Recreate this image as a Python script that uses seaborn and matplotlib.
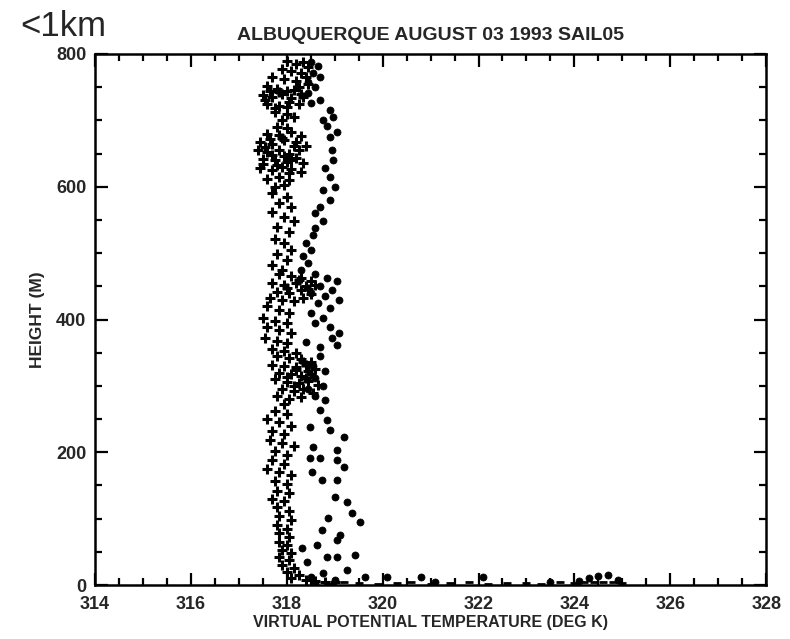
import matplotlib
matplotlib.use("Agg")
import matplotlib.pyplot as plt
import seaborn as sns
import pandas as pd
from matplotlib.ticker import MultipleLocator

# ---- data ----
plus_T = [318.0,318.2,318.35,317.9,318.1,318.3,318.45,317.7,317.95,318.2,318.4,317.6,317.8,318.0,318.25,318.45,
          317.5,317.7,317.9,318.1,318.3,317.6,317.85,318.05,318.25,317.75,318.0,317.9,318.15,
          317.65,317.85,318.15,318.35,317.55,317.75,318.0,
          317.8,318.0,317.6,317.85,318.1,318.3,317.45,317.7,317.95,318.2,318.4,317.4,317.6,317.85,318.05,318.25,
          317.5,317.75,318.0,318.2,318.35,317.45,317.7,317.9,318.1,318.3,317.6,317.85,318.05,317.75,317.95,
          317.55,317.7,317.95,318.15,317.5,317.8,318.05,317.65,317.9,318.1,
          317.7,318.0,317.85,318.1,317.7,317.95,318.15,317.8,318.05,317.75,317.95,318.1,317.8,318.0,317.7,317.9,
          317.85,318.1,318.3,318.5,317.7,317.95,318.2,318.4,318.6,317.8,318.05,318.3,318.5,317.65,317.9,318.15,318.35,
          318.0,318.25,318.45,
          317.6,317.85,318.05,317.5,317.75,318.0,317.6,317.85,318.1,317.55,317.8,318.0,317.7,317.95,318.2,
          317.8,318.05,318.3,318.5,317.7,317.95,318.2,318.4,318.6,317.85,318.1,318.3,318.5,317.75,318.0,318.25,318.45,318.65,
          317.9,318.15,318.35,318.55,317.8,318.05,318.3,317.95,
          318.2,318.4,318.15,318.35,318.0,318.45,
          317.75,318.0,317.6,317.85,318.1,317.7,317.95,317.65,317.9,318.15,317.75,318.0,317.7,317.95,317.6,317.85,318.1,
          317.75,318.0,317.8,318.05,317.7,317.95,317.8,318.05,317.85,318.1,317.8,318.0,317.85,318.05,317.85,318.0,
          317.9,318.1,317.85,318.05,317.9,318.15,318.0,318.25,318.1,318.4,318.6,318.8,319.0]
plus_H = [790,785,788,778,775,772,780,765,762,760,765,752,748,745,750,755,
          738,735,740,733,740,725,722,728,725,712,710,700,705,
          745,742,746,735,730,718,720,
          690,688,680,678,682,676,668,665,670,668,662,655,652,655,650,656,
          642,640,638,643,636,628,625,630,626,622,612,615,610,600,603,
          660,648,646,662,634,633,620,672,674,640,
          590,585,575,570,562,555,548,540,532,522,515,505,498,490,482,475,
          468,465,462,458,455,452,455,450,452,442,440,444,438,432,430,428,432,
          447,460,446,
          420,415,410,402,398,395,388,384,380,372,368,364,356,352,350,
          345,342,340,336,332,330,328,332,325,320,318,315,318,310,306,304,308,302,
          296,292,295,290,285,280,283,272,
          324,312,300,336,313,322,
          262,258,250,245,240,232,228,218,214,210,202,196,188,182,175,170,165,
          157,152,142,138,130,126,117,112,104,98,90,85,78,72,65,60,
          52,48,42,37,30,26,20,15,10,8,6,5,4]

dot_T = [318.5,318.65,318.55,318.7,318.45,318.6,318.45,318.69,318.5,318.9,318.97,318.76,318.85,319.05,318.9,
         318.95,318.97,318.8,318.9,319.0,318.75,318.9,318.7,318.6,318.75,318.6,318.55,318.4,318.5,318.35,318.45,318.3,
         318.6,318.85,319.05,318.7,318.95,318.5,318.8,319.1,318.65,318.9,
         318.5,318.75,318.6,318.9,319.1,318.95,319.05,318.7,318.4,
         318.7,318.55,318.8,318.6,318.75,318.45,318.6,
         318.8,318.7,318.84,318.49,318.9,319.2,318.55,319.05,318.49,318.69,319.05,319.2,318.53,318.74,319.05,
         319.0,319.26,319.36,319.53,318.86,318.74,319.11,318.63,319.05,318.32,318.84,319.05,319.42,318.42,
         318.76,319.26,319.63,318.5,319.0,
         320.1,320.8,321.1,322.1,323.5,324.3,324.5,324.7,324.9,324.1]
dot_H = [788,782,772,765,758,750,741,731,726,716,705,700,692,683,675,
         655,640,628,615,600,595,580,570,560,548,538,527,515,505,495,485,475,
         468,462,458,450,445,440,435,430,425,418,
         410,402,395,388,380,372,362,358,366,
         345,330,322,312,300,295,285,
         279,264,249,238,234,223,208,203,191,191,188,178,170,158,158,
         133,125,108,95,101,83,75,60,68,56,42,42,45,35,
         18,23,12,12,8,
         12,12,5,12,5,10,14,15,8,6]

base_T = [318.6,318.9,319.2,319.5,319.9,320.3,320.6,321.0,321.4,321.8,322.2,322.6,
          323.0,323.3,323.7,324.0,324.2,324.4,324.6,324.8,325.0]
base_H = [3,2,4,3,2,3,4,2,3,4,2,3,3,2,4,3,5,4,5,4,3]

title = "ALBUQUERQUE AUGUST 03 1993 SAIL05"
xlabel = "VIRTUAL POTENTIAL TEMPERATURE (DEG K)"
ylabel = "HEIGHT (M)"
xticks = [314, 316, 318, 320, 322, 324, 326, 328]
yticks = [0, 200, 400, 600, 800]

plus_df = pd.DataFrame({"T": plus_T, "H": plus_H})
dot_df = pd.DataFrame({"T": dot_T, "H": dot_H})
base_df = pd.DataFrame({"T": base_T, "H": base_H})

sns.set_style("ticks")
plt.rcParams["font.family"] = ["Liberation Sans", "DejaVu Sans"]

fig = plt.figure(figsize=(7.9, 6.39), dpi=100)
ax = fig.add_axes([0.120, 0.0845, 0.850, 0.831])

sns.scatterplot(data=plus_df, x="T", y="H", marker="+", s=60, color="black",
                linewidth=2.2, ax=ax, legend=False)
sns.scatterplot(data=dot_df, x="T", y="H", marker="o", s=26, color="black",
                edgecolor="black", linewidth=0.5, ax=ax, legend=False)
sns.scatterplot(data=base_df, x="T", y="H", marker="_", s=40, color="black",
                linewidth=2.0, ax=ax, legend=False)

ax.set_xlim(314, 328)
ax.set_ylim(0, 800)
ax.set_xticks(xticks)
ax.set_xticklabels([str(v) for v in xticks])
ax.set_yticks(yticks)
ax.set_yticklabels([str(v) for v in yticks])
ax.xaxis.set_minor_locator(MultipleLocator(0.5))
ax.yaxis.set_minor_locator(MultipleLocator(50))
ax.tick_params(which="both", direction="in", top=True, right=True, width=1.6, color="black")
ax.tick_params(which="major", length=9)
ax.tick_params(which="minor", length=5)
ax.tick_params(axis="both", labelsize=13)
ax.tick_params(axis="x", pad=8)
ax.tick_params(axis="y", pad=6)
for lab in ax.get_xticklabels() + ax.get_yticklabels():
    lab.set_fontweight("bold")
for sp in ax.spines.values():
    sp.set_linewidth(1.8)
    sp.set_color("black")
    sp.set_visible(True)

ax.set_xlabel(xlabel, fontsize=11.5, fontweight="bold", labelpad=1)
ax.set_ylabel(ylabel, fontsize=12.5, fontweight="bold", labelpad=8)
ax.set_title(title, fontsize=14, fontweight="bold", pad=10)

fig.text(0.025, 0.958, "<1km", fontsize=25, ha="left", va="center")

fig.savefig("out.png", dpi=100)
